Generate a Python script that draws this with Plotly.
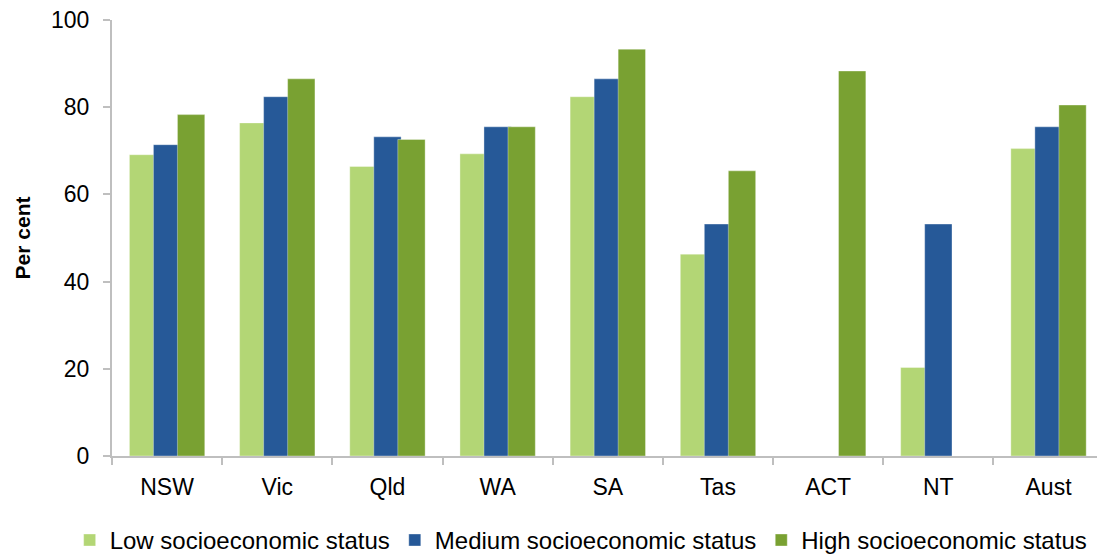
import plotly.graph_objects as go

# Categories and series values (per cent)
states = ["NSW", "Vic", "Qld", "WA", "SA", "Tas", "ACT", "NT", "Aust"]
low_ses = [69.1, 76.4, 66.4, 69.3, 82.4, 46.3, None, 20.3, 70.5]
medium_ses = [71.4, 82.4, 73.2, 75.5, 86.5, 53.2, None, 53.2, 75.5]
high_ses = [78.3, 86.5, 72.6, 75.5, 93.3, 65.4, 88.3, None, 80.5]

series_names = [
    "Low socioeconomic status",
    "Medium socioeconomic status",
    "High socioeconomic status",
]
series_colors = ["#B3D675", "#265998", "#79A132"]
y_ticks = [0, 20, 40, 60, 80, 100]

FONT = "Liberation Sans, Arial, sans-serif"
AXIS_GREY = "#BFBFBF"

# Overlapping clustered bars: each bar slightly wider than the step between them
bar_w = 0.248
step = 0.218
start = -(2 * step + bar_w) / 2

fig = go.Figure()
for i, (name, vals, col) in enumerate(
    zip(series_names, [low_ses, medium_ses, high_ses], series_colors)
):
    fig.add_trace(
        go.Bar(
            x=states,
            y=vals,
            name=name,
            marker=dict(color=col, line=dict(color="rgba(255,255,255,0.35)", width=1)),
            width=bar_w,
            offset=start + i * step,
        )
    )

fig.update_layout(
    width=1097,
    height=554,
    barmode="overlay",
    plot_bgcolor="white",
    paper_bgcolor="white",
    margin=dict(l=112, r=0, t=20, b=98, autoexpand=False),
    font=dict(family=FONT, size=23, color="#000000"),
    showlegend=True,
    legend=dict(
        orientation="h",
        x=-0.043,
        xanchor="left",
        y=-0.142,
        yanchor="top",
        font=dict(family=FONT, size=24, color="#000000"),
        itemwidth=30,
        tracegroupgap=0,
        traceorder="normal",
    ),
    xaxis=dict(
        type="category",
        range=[-0.5, 8.44],
        showline=True,
        linecolor=AXIS_GREY,
        linewidth=2,
        ticks="outside",
        tickson="boundaries",
        ticklen=7,
        tickwidth=2,
        tickcolor=AXIS_GREY,
        showgrid=False,
        tickfont=dict(family=FONT, size=23, color="#000000"),
        ticklabelstandoff=9,
    ),
    yaxis=dict(
        range=[0, 100],
        tickvals=y_ticks,
        showline=True,
        linecolor=AXIS_GREY,
        linewidth=2,
        ticks="outside",
        ticklen=7,
        tickwidth=2,
        tickcolor=AXIS_GREY,
        showgrid=False,
        zeroline=False,
        tickfont=dict(family=FONT, size=23, color="#000000"),
        ticklabelstandoff=9,
        title=dict(
            text="<b>Per cent</b>",
            font=dict(family=FONT, size=21, color="#000000"),
            standoff=15,
        ),
    ),
)

fig.write_html("out.html")
